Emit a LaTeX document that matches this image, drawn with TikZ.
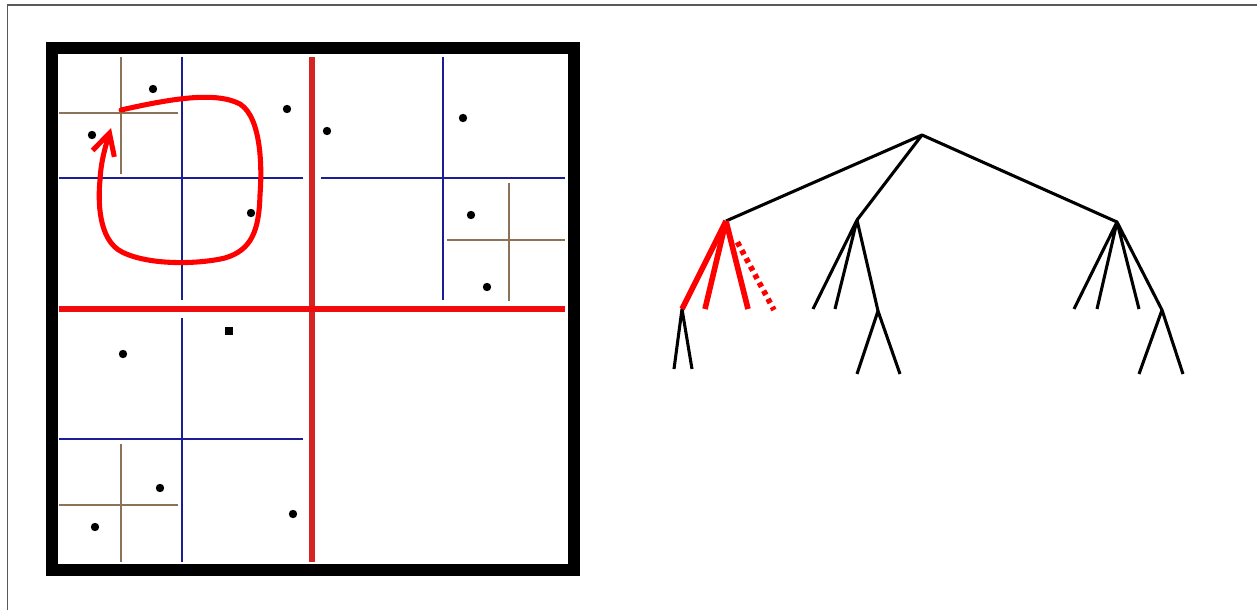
\documentclass[tikz,border=0pt]{standalone}
\usepackage{xcolor}
\usepackage{tikz}
\usetikzlibrary{arrows.meta,positioning}
\definecolor{cutred}{RGB}{240,12,12}
\definecolor{cutdark}{RGB}{212,36,36}
\definecolor{cutblue}{RGB}{28,28,150}
\definecolor{cutbrown}{RGB}{140,114,88}

\begin{document}
\begin{tikzpicture}[x=0.75pt, y=-0.75pt]
  \tikzstyle{pt} = [circle, fill=black, inner sep=0pt, minimum size=6.3pt]
  \tikzstyle{sq} = [rectangle, fill=black, inner sep=0pt, minimum size=5.6pt]
  \tikzstyle{cut1} = [draw=cutred, line width=3.8pt]
  \tikzstyle{cut1v} = [draw=cutdark, line width=3.8pt]
  \tikzstyle{cut2} = [draw=cutblue, line width=1.9pt]
  \tikzstyle{cut3} = [draw=cutbrown, line width=1.2pt]
  \tikzstyle{edge} = [draw=black, line width=2.3pt, line join=round]
  \tikzstyle{hot} = [draw=red, line width=4.2pt]

  \useasboundingbox (0,0) rectangle (1257,610);
  \draw[black!65, line width=1.2pt] (7.5,610) -- (7.5,5) -- (1257,5);

  % space
  \draw[line width=9.4pt] (52,48) rectangle (574,570);

  \draw[cut2] (182,57) -- (182,300);
  \draw[cut2] (59,178) -- (303,178);
  \draw[cut2] (443,57) -- (443,300);
  \draw[cut2] (321,178) -- (565,178);
  \draw[cut2] (182,318) -- (182,562);
  \draw[cut2] (59,439) -- (303,439);

  \draw[cut3] (121,57) -- (121,174);
  \draw[cut3] (59,113) -- (178,113);
  \draw[cut3] (509,183) -- (509,301);
  \draw[cut3] (447,240) -- (565,240);
  \draw[cut3] (121,444) -- (121,562);
  \draw[cut3] (59,505) -- (178,505);

  \draw[cut1v] (312,57) -- (312,562);
  \draw[cut1] (59,309) -- (565,309);

  \node[pt] (p1) at (153,89) {};
  \node[pt] (p2) at (92,135) {};
  \node[pt] (p3) at (287,109) {};
  \node[pt] (p4) at (327,131) {};
  \node[pt] (p5) at (251,213) {};
  \node[pt] (p6) at (463,118) {};
  \node[pt] (p7) at (471,215) {};
  \node[pt] (p8) at (487,287) {};
  \node[pt] (p9) at (123,354) {};
  \node[sq] (p10) at (229,331) {};
  \node[pt] (p11) at (160,488) {};
  \node[pt] (p12) at (95,527) {};
  \node[pt] (p13) at (293,514) {};

  \draw[red, line width=3.8pt, line cap=round, -{Straight Barb[length=16pt, width=17pt]}]
    (121,110) .. controls (170,99) and (215,91) .. (240,104)
    .. controls (262,118) and (262,170) .. (260,195)
    .. controls (259,230) and (252,250) .. (225,258)
    .. controls (200,264) and (150,266) .. (122,252)
    .. controls (98,240) and (98,200) .. (100,180)
    .. controls (101,160) and (106,145) .. (111,128);

  % tree
  \coordinate (root) at (922,135);
  \coordinate (a) at (726,221);
  \coordinate (b) at (857,220);
  \coordinate (c) at (1117,222);
  \coordinate (a1) at (682,309);
  \coordinate (a2) at (705,309);
  \coordinate (a3) at (748,309);
  \coordinate (a4) at (774,310);
  \coordinate (a11) at (674,369);
  \coordinate (a12) at (692,369);
  \coordinate (b1) at (813,309);
  \coordinate (b2) at (835,309);
  \coordinate (b3) at (878,311);
  \coordinate (b31) at (857,374);
  \coordinate (b32) at (900,374);
  \coordinate (c1) at (1074,309);
  \coordinate (c2) at (1097,309);
  \coordinate (c3) at (1139,309);
  \coordinate (c4) at (1162,310);
  \coordinate (c41) at (1139,374);
  \coordinate (c42) at (1183,374);

  \draw[edge] (a) -- (root) -- (b);
  \draw[edge] (root) -- (c);
  \draw[edge] (b1) -- (b) -- (b2);
  \draw[edge] (b) -- (b3);
  \draw[edge] (b31) -- (b3) -- (b32);
  \draw[edge] (c1) -- (c) -- (c2);
  \draw[edge] (c3) -- (c) -- (c4);
  \draw[edge] (c41) -- (c4) -- (c42);
  \draw[edge] (a11) -- (a1) -- (a12);
  \draw[hot] (a1) -- (a);
  \draw[hot] (a) -- (a2);
  \draw[hot] (a) -- (a3);
  \draw[hot, dash pattern=on 3.6pt off 3.3pt, shorten <=18pt] (a) -- (a4);
\end{tikzpicture}
\end{document}
